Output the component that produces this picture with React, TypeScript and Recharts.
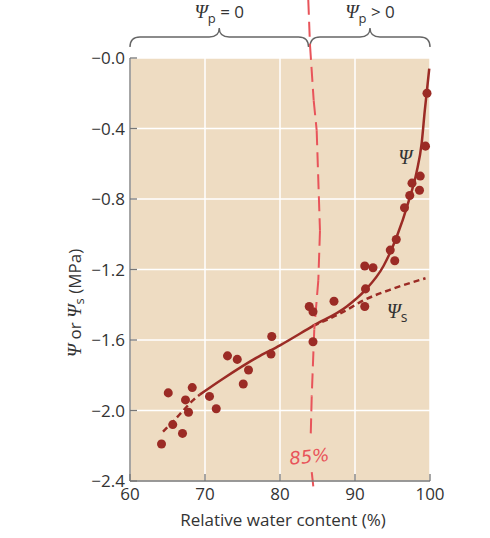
import React from "react";
import {
  ComposedChart,
  Line,
  Scatter,
  XAxis,
  YAxis,
  CartesianGrid,
  ReferenceLine,
  ReferenceArea,
  ReferenceDot,
} from "recharts";

const xTicks = [60, 70, 80, 90, 100];
const yTicks = [-2.4, -2.0, -1.6, -1.2, -0.8, -0.4, 0];

// measured leaf water potential points
const measured = [
  { x: 64.2, y: -2.19 },
  { x: 65.1, y: -1.9 },
  { x: 65.7, y: -2.08 },
  { x: 67.0, y: -2.13 },
  { x: 67.4, y: -1.94 },
  { x: 67.8, y: -2.01 },
  { x: 68.3, y: -1.87 },
  { x: 70.6, y: -1.92 },
  { x: 71.5, y: -1.99 },
  { x: 73.0, y: -1.69 },
  { x: 74.3, y: -1.71 },
  { x: 75.1, y: -1.85 },
  { x: 75.8, y: -1.77 },
  { x: 78.8, y: -1.68 },
  { x: 78.9, y: -1.58 },
  { x: 83.9, y: -1.41 },
  { x: 84.4, y: -1.44 },
  { x: 84.4, y: -1.61 },
  { x: 87.2, y: -1.38 },
  { x: 91.4, y: -1.31 },
  { x: 91.3, y: -1.41 },
  { x: 91.3, y: -1.18 },
  { x: 92.4, y: -1.19 },
  { x: 94.7, y: -1.09 },
  { x: 95.3, y: -1.15 },
  { x: 95.5, y: -1.03 },
  { x: 96.6, y: -0.85 },
  { x: 97.3, y: -0.78 },
  { x: 98.6, y: -0.75 },
  { x: 97.6, y: -0.71 },
  { x: 98.7, y: -0.67 },
  { x: 99.4, y: -0.5 },
  { x: 99.6, y: -0.2 },
];

// fitted curve for psi (dashed at the low end)
const psiDashed = [
  { x: 64.4, y: -2.12 },
  { x: 65.8, y: -2.06 },
  { x: 67.1, y: -2.0 },
  { x: 68.2, y: -1.95 },
  { x: 69.3, y: -1.91 },
];

const psiSolid = [
  { x: 69.3, y: -1.91 },
  { x: 72.4, y: -1.82 },
  { x: 76.9, y: -1.7 },
  { x: 80.0, y: -1.63 },
  { x: 84.4, y: -1.52 },
  { x: 88.9, y: -1.41 },
  { x: 91.3, y: -1.32 },
  { x: 93.8, y: -1.18 },
  { x: 95.6, y: -1.01 },
  { x: 97.1, y: -0.82 },
  { x: 98.2, y: -0.65 },
  { x: 98.9, y: -0.48 },
  { x: 99.3, y: -0.3 },
  { x: 99.9, y: -0.06 },
];

// osmotic potential once turgor sets in
const psiS = [
  { x: 84.4, y: -1.52 },
  { x: 88.0, y: -1.45 },
  { x: 91.4, y: -1.37 },
  { x: 95.0, y: -1.31 },
  { x: 99.4, y: -1.25 },
];

// hand-drawn marker at ~85%
const handLine = [
  { x: 83.77, y: 0.33 },
  { x: 84.0, y: 0.074 },
  { x: 84.49, y: -0.24 },
  { x: 84.89, y: -0.41 },
  { x: 85.33, y: -0.98 },
  { x: 85.11, y: -1.26 },
  { x: 84.57, y: -1.54 },
  { x: 84.23, y: -1.92 },
  { x: 84.09, y: -2.15 },
];
const handTick = [
  { x: 84.23, y: -2.35 },
  { x: 84.44, y: -2.43 },
];

const braces = [
  { x1: 60, x2: 83.8, sign: "=" },
  { x1: 84.0, x2: 100, sign: ">" },
];

const DARK = "#9b2b25";
const HAND = "#e8545a";
const FONT = "'Open Sans', sans-serif";
const SERIF = "'Liberation Serif', serif";

const fmt = (v: number) => (v <= 0 ? "\u2212" : "") + Math.abs(v).toFixed(1);

const makeBrace = (sign: string) => (props: any) => {
  const { x, y, width, height } = props;
  const x2 = x + width;
  const bot = y + height;
  const mid = y + height * 0.47;
  const cx = x + width / 2;
  const q = 10;
  const d = `M${x},${bot} Q${x},${mid} ${x + q},${mid} L${cx - q},${mid} Q${cx},${mid} ${cx},${y} Q${cx},${mid} ${cx + q},${mid} L${x2 - q},${mid} Q${x2},${mid} ${x2},${bot}`;
  return (
    <g>
      <path d={d} fill="none" stroke="#666" strokeWidth={1.4} />
      <text x={cx} y={y - 10} textAnchor="middle" fontSize={17} fill="#333" fontFamily={FONT}>
        <tspan fontFamily={SERIF} fontStyle="italic" fontSize={19}>Ψ</tspan>
        <tspan dy={5} fontSize={13}>p</tspan>
        <tspan dy={-5}>{` ${sign} 0`}</tspan>
      </text>
    </g>
  );
};

const YTitle = (props: any) => {
  const vb = props.viewBox;
  const cx = vb.x + 74;
  const cy = vb.y + 245;
  return (
    <text
      x={cx}
      y={cy}
      transform={`rotate(-90, ${cx}, ${cy})`}
      textAnchor="middle"
      dominantBaseline="central"
      fontSize={17}
      fill="#333"
      fontFamily={FONT}
    >
      <tspan fontFamily={SERIF} fontStyle="italic" fontSize={19}>Ψ</tspan>
      <tspan> or </tspan>
      <tspan fontFamily={SERIF} fontStyle="italic" fontSize={19}>Ψ</tspan>
      <tspan dy={5} fontSize={13}>s</tspan>
      <tspan dy={-5}> (MPa)</tspan>
    </text>
  );
};

const XTitle = (props: any) => {
  const vb = props.viewBox;
  return (
    <text x={vb.x + vb.width / 2 + 3} y={vb.y + 45} textAnchor="middle" fontSize={17} fill="#333" fontFamily={FONT}>
      Relative water content (%)
    </text>
  );
};

const PsiLabel = (props: any) => (
  <text x={props.cx} y={props.cy} textAnchor="middle" dominantBaseline="central" fontSize={20} fontFamily={SERIF} fontStyle="italic" fill="#333">
    Ψ
  </text>
);

const PsiSLabel = (props: any) => (
  <text x={props.cx} y={props.cy} textAnchor="middle" dominantBaseline="central" fontSize={20} fontFamily={SERIF} fill="#333">
    <tspan fontStyle="italic">Ψ</tspan>
    <tspan dy={5} fontSize={14} fontFamily={FONT}>s</tspan>
  </text>
);

const HandLabel = (props: any) => (
  <text
    x={props.cx}
    y={props.cy}
    textAnchor="middle"
    dominantBaseline="central"
    fontSize={18}
    fontStyle="italic"
    fontFamily="'DejaVu Sans', sans-serif"
    fill={HAND}
    transform={`rotate(-6, ${props.cx}, ${props.cy})`}
  >
    85%
  </text>
);

export default function App() {
  return (
    <div style={{ position: "absolute", left: 0, top: 0 }}>
      <ComposedChart width={490} height={538} margin={{ top: 58, right: 60, bottom: 0, left: 0 }}>
        <CartesianGrid fill="#eedcc2" stroke="#ffffff" strokeWidth={1.5} />
        <XAxis
          type="number"
          dataKey="x"
          domain={[60, 100]}
          ticks={xTicks}
          height={57}
          tickSize={-7}
          tickMargin={14}
          axisLine={{ stroke: "#777", strokeWidth: 1.3 }}
          tickLine={{ stroke: "#777", strokeWidth: 1.3 }}
          tick={{ fill: "#333", fontSize: 17, fontFamily: FONT }}
          label={XTitle}
        />
        <YAxis
          type="number"
          dataKey="y"
          domain={[-2.4, 0]}
          ticks={yTicks}
          width={130}
          tickSize={-7}
          tickMargin={12}
          tickFormatter={fmt}
          axisLine={{ stroke: "#777", strokeWidth: 1.3 }}
          tickLine={{ stroke: "#777", strokeWidth: 1.3 }}
          tick={{ fill: "#333", fontSize: 17, fontFamily: FONT }}
          label={YTitle}
        />
        <Line data={psiDashed} dataKey="y" type="monotone" stroke={DARK} strokeWidth={2.5} strokeDasharray="6 4" dot={false} isAnimationActive={false} />
        <Line data={psiSolid} dataKey="y" type="monotone" stroke={DARK} strokeWidth={2.5} dot={false} isAnimationActive={false} />
        <Line data={psiS} dataKey="y" type="monotone" stroke={DARK} strokeWidth={2.5} strokeDasharray="6 4" dot={false} isAnimationActive={false} />
        <Scatter data={measured} fill={DARK} isAnimationActive={false} />
        <ReferenceDot x={96.7} y={-0.56} r={0} shape={PsiLabel} />
        <ReferenceDot x={95.6} y={-1.435} r={0} shape={PsiSLabel} />
        {braces.map((b) => (
          <ReferenceArea key={b.sign} x1={b.x1} x2={b.x2} y1={0.062} y2={0.17} ifOverflow="visible" shape={makeBrace(b.sign)} />
        ))}
        {handLine.slice(1).map((p, i) => (
          <ReferenceLine
            key={i}
            segment={[handLine[i], p]}
            ifOverflow="visible"
            stroke={HAND}
            strokeWidth={2}
            strokeDasharray="15 7"
          />
        ))}
        <ReferenceLine segment={handTick} ifOverflow="visible" stroke={HAND} strokeWidth={2} />
        <ReferenceDot x={83.9} y={-2.26} r={0} ifOverflow="visible" shape={HandLabel} />
      </ComposedChart>
    </div>
  );
}
